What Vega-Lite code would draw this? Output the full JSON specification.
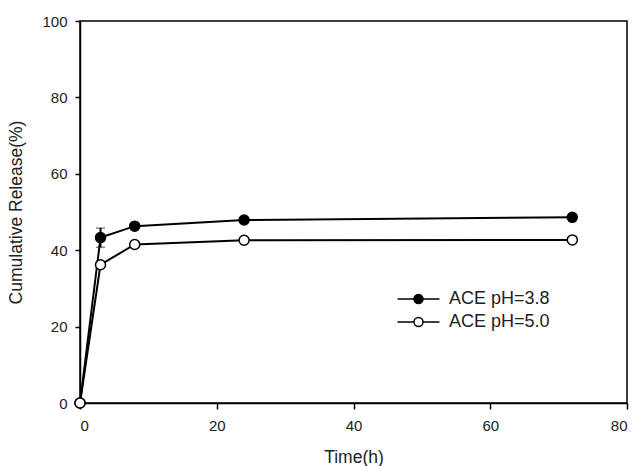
{
  "$schema": "https://vega.github.io/schema/vega-lite/v6.json",
  "width": 547,
  "height": 382,
  "autosize": {"type": "none"},
  "padding": {"left": 80, "top": 21, "right": 7, "bottom": 63},
  "background": "white",
  "data": {
    "values": [
      {"t": 0, "r": 0, "s": "ACE pH=3.8"},
      {"t": 3, "r": 43.3, "s": "ACE pH=3.8", "lo": 40.8, "hi": 45.8},
      {"t": 8, "r": 46.3, "s": "ACE pH=3.8"},
      {"t": 24, "r": 47.9, "s": "ACE pH=3.8"},
      {"t": 72, "r": 48.6, "s": "ACE pH=3.8"},
      {"t": 0, "r": 0, "s": "ACE pH=5.0"},
      {"t": 3, "r": 36.2, "s": "ACE pH=5.0"},
      {"t": 8, "r": 41.5, "s": "ACE pH=5.0"},
      {"t": 24, "r": 42.6, "s": "ACE pH=5.0"},
      {"t": 72, "r": 42.7, "s": "ACE pH=5.0"}
    ]
  },
  "encoding": {
    "x": {
      "field": "t", "type": "quantitative",
      "scale": {"domain": [0, 80], "nice": false, "padding": 0},
      "axis": {"values": [0, 20, 40, 60, 80], "title": "Time(h)", "titlePadding": 15, "labelPadding": 9, "tickSize": 6}
    },
    "y": {
      "field": "r", "type": "quantitative",
      "scale": {"domain": [0, 100], "nice": false, "padding": 0},
      "axis": {"values": [0, 20, 40, 60, 80, 100], "title": "Cumulative Release(%)", "titlePadding": 16, "labelPadding": 8}
    }
  },
  "layer": [
    {
      "mark": {"type": "line", "color": "black", "strokeWidth": 2},
      "encoding": {"detail": {"field": "s"}}
    },
    {
      "transform": [{"filter": "datum.lo != null"}],
      "mark": {"type": "errorbar", "ticks": {"color": "black", "size": 9, "strokeWidth": 2}, "rule": {"color": "black", "strokeWidth": 2}},
      "encoding": {
        "y": {"field": "lo", "type": "quantitative"},
        "y2": {"field": "hi"}
      }
    },
    {
      "mark": {"type": "point", "filled": true, "size": 100, "stroke": "black", "strokeWidth": 1.5, "opacity": 1},
      "encoding": {
        "fill": {
          "field": "s", "type": "nominal",
          "scale": {"domain": ["ACE pH=3.8", "ACE pH=5.0"], "range": ["black", "white"]},
          "legend": {
            "title": null,
            "orient": "none",
            "legendX": 329.5,
            "legendY": 269,
            "symbolType": "M-4.2,0H-0.9M0.9,0H4.2M-0.9,0A0.9,0.9 0 1,1 0.9,0A0.9,0.9 0 1,1 -0.9,0Z",
            "symbolSize": 100,
            "symbolStrokeColor": "black",
            "symbolStrokeWidth": 1.5,
            "symbolOpacity": 1,
            "labelOffset": 21.5,
            "labelFontSize": 18,
            "labelFont": "Liberation Sans",
            "labelColor": "#222",
            "rowPadding": 5,
            "symbolOffset": 0
          }
        }
      }
    }
  ],
  "config": {
    "view": {"stroke": "black", "strokeWidth": 1.5},
    "axis": {
      "grid": false,
      "domainColor": "black",
      "domainWidth": 1.5,
      "tickColor": "black",
      "tickWidth": 1.5,
      "tickSize": 5,
      "labelFont": "Liberation Sans",
      "labelFontSize": 15,
      "labelColor": "#222",
      "titleFont": "Liberation Sans",
      "titleFontSize": 17.5,
      "titleFontWeight": "normal",
      "titleColor": "#222"
    }
  }
}
